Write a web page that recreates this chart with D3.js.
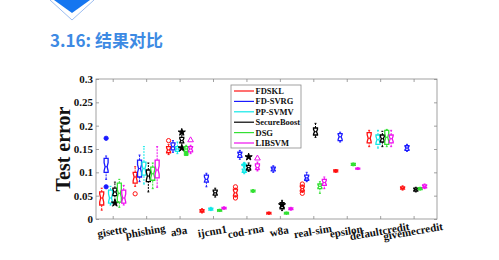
<!DOCTYPE html>
<html>
<head>
<meta charset="utf-8">
<script src="https://cdn.jsdelivr.net/npm/d3@7"></script>
<style>
  body { margin: 0; background: #fff; }
</style>
</head>
<body>
<svg id="chart" width="499" height="260"></svg>
<script>
//////////////////////////////////////////////////////////////////////////////
// Data: one row per dataset, [whiskerLow, q1, median, q3, whiskerHigh]

var datasets = ["gisette", "phishing", "a9a", "ijcnn1", "cod-rna", "w8a",
                "real-sim", "epsilon", "defaultcredit", "givemecredit"];
var methods = ["FDSKL", "FD-SVRG", "PP-SVMV", "SecureBoost", "DSG", "LIBSVM"];
var yTicks = [0, 0.05, 0.1, 0.15, 0.2, 0.25, 0.3];

var fdskl = [
  [0.019, 0.030, 0.045, 0.058, 0.066], [0.070, 0.077, 0.090, 0.100, 0.112],
  [0.138, 0.142, 0.148, 0.155, 0.160], [0.013, 0.015, 0.017, 0.020, 0.022],
  [0.047, 0.049, 0.056, 0.064, 0.066], [0.010, 0.011, 0.012, 0.014, 0.015],
  [0.057, 0.060, 0.065, 0.071, 0.073], [0.100, 0.101, 0.103, 0.105, 0.106],
  [0.155, 0.163, 0.173, 0.185, 0.190], [0.062, 0.064, 0.066, 0.069, 0.071]];
var fdsvrg = [
  [0.085, 0.100, 0.112, 0.130, 0.135], [0.080, 0.090, 0.108, 0.126, 0.137],
  [0.143, 0.148, 0.155, 0.163, 0.168], [0.069, 0.079, 0.085, 0.094, 0.098],
  [0.128, 0.132, 0.138, 0.143, 0.147], [0.100, 0.103, 0.107, 0.111, 0.114],
  [0.080, 0.083, 0.088, 0.094, 0.100], [0.165, 0.168, 0.176, 0.183, 0.186],
  null, [0.145, 0.147, 0.152, 0.157, 0.160]];
var ppsvmv = [
  [0.030, 0.034, 0.045, 0.062, 0.070], [0.075, 0.094, 0.108, 0.122, 0.155],
  [0.140, 0.145, 0.150, 0.155, 0.165], [0.018, 0.019, 0.021, 0.023, 0.025],
  [0.097, 0.100, 0.103, 0.107, 0.110], null,
  null, null,
  [0.152, 0.160, 0.170, 0.180, 0.190], null];
var secureboost = [
  [0.040, 0.050, 0.058, 0.066, 0.079], [0.058, 0.080, 0.092, 0.105, 0.120],
  [0.155, 0.163, 0.168, 0.175, 0.180], [0.047, 0.051, 0.056, 0.062, 0.066],
  [0.102, 0.105, 0.110, 0.115, 0.120], [0.018, 0.022, 0.028, 0.035, 0.040],
  [0.175, 0.180, 0.187, 0.195, 0.205], null,
  [0.155, 0.165, 0.172, 0.180, 0.188], [0.058, 0.060, 0.063, 0.066, 0.068]];
var dsg = [
  [0.025, 0.036, 0.055, 0.077, 0.085], [0.065, 0.083, 0.097, 0.111, 0.120],
  [0.140, 0.145, 0.150, 0.155, 0.158], [0.016, 0.017, 0.018, 0.020, 0.021],
  [0.057, 0.058, 0.060, 0.062, 0.063], [0.010, 0.011, 0.012, 0.014, 0.015],
  [0.055, 0.065, 0.070, 0.075, 0.080], [0.114, 0.115, 0.117, 0.119, 0.120],
  [0.155, 0.160, 0.175, 0.190, 0.192], [0.062, 0.063, 0.065, 0.067, 0.068]];
var libsvm = [
  [0.030, 0.034, 0.045, 0.062, 0.072], [0.068, 0.088, 0.105, 0.126, 0.155],
  [0.140, 0.144, 0.150, 0.155, 0.158], [0.021, 0.022, 0.023, 0.025, 0.026],
  [0.103, 0.106, 0.110, 0.118, 0.122], [0.019, 0.020, 0.022, 0.024, 0.025],
  [0.065, 0.072, 0.078, 0.085, 0.090], [0.106, 0.107, 0.108, 0.109, 0.110],
  [0.155, 0.163, 0.172, 0.180, 0.190], [0.065, 0.067, 0.070, 0.073, 0.075]];

// outliers: [datasetIndex, value]
var fdsklOut = [[1, 0.054], [2, 0.168], [4, 0.069], [4, 0.045], [6, 0.055], [6, 0.075]];
var fdsvrgOut = [[0, 0.173], [0, 0.069]];
var ppsvmvOut = [[4, 0.116]];
var secureboostOut = [[0, 0.034], [2, 0.186], [2, 0.152], [4, 0.133], [5, 0.030]];
var dsgOut = [[2, 0.140]];
var libsvmOut = [[2, 0.169], [4, 0.130]];

var allStats = [fdskl, fdsvrg, ppsvmv, secureboost, dsg, libsvm];
var allOut = [fdsklOut, fdsvrgOut, ppsvmvOut, secureboostOut, dsgOut, libsvmOut];
var colors = ["#ff1010", "#1a1aff", "#10e8e8", "#000000", "#33e033", "#ee10ee"];
var markers = [d3.symbolCircle, d3.symbolCircle, d3.symbolCross, d3.symbolStar,
               d3.symbolSquare, d3.symbolTriangle];
var markerFill = [false, true, true, true, true, false];

//////////////////////////////////////////////////////////////////////////////
// Header

var svg = d3.select("#chart");
var serif = "'Liberation Serif', 'Times New Roman', serif";

svg.append("path")
  .attr("d", "M50,0 L72,20 L94,0")
  .attr("fill", "none")
  .attr("stroke", "#9cbdf0")
  .attr("stroke-width", 1);
svg.append("path")
  .attr("d", "M54,0 L90,0 L72,13 Z")
  .attr("fill", "#1576f0");

svg.append("text")
  .attr("x", 50)
  .attr("y", 47)
  .attr("font-family", "'Noto Sans CJK SC', 'Noto Sans', sans-serif")
  .attr("font-weight", "bold")
  .attr("font-size", 17)
  .attr("fill", "#3d8ae3")
  .text("3.16: 结果对比");

//////////////////////////////////////////////////////////////////////////////
// Scales and axes

var pLeft = 96, pRight = 437, pTop = 79, pBottom = 219;
var x = d3.scaleLinear().domain([0.5, 10.7]).range([pLeft, pRight]);
var y = d3.scaleLinear().domain([0, 0.3]).range([pBottom, pTop]);
var axisColor = "#8a8a8a";

var plot = svg.append("g");

plot.append("rect")
  .attr("x", pLeft).attr("y", pTop)
  .attr("width", pRight - pLeft).attr("height", pBottom - pTop)
  .attr("fill", "none")
  .attr("stroke", axisColor)
  .attr("stroke-width", 0.8);

var xIdx = d3.range(1, datasets.length + 1);

// inner ticks on four sides
var xb = plot.append("g").attr("transform", `translate(0,${pBottom})`)
  .call(d3.axisBottom(x).tickValues(xIdx).tickSizeInner(-3).tickSizeOuter(0).tickFormat(""));
var xt = plot.append("g").attr("transform", `translate(0,${pTop})`)
  .call(d3.axisTop(x).tickValues(xIdx).tickSizeInner(-3).tickSizeOuter(0).tickFormat(""));
var yl = plot.append("g").attr("transform", `translate(${pLeft},0)`)
  .call(d3.axisLeft(y).tickValues(yTicks).tickSizeInner(-3).tickSizeOuter(0)
    .tickFormat(d => String(+d.toFixed(2))));
var yr = plot.append("g").attr("transform", `translate(${pRight},0)`)
  .call(d3.axisRight(y).tickValues(yTicks).tickSizeInner(-3).tickSizeOuter(0).tickFormat(""));

[xb, xt, yl, yr].forEach(function(g) {
  g.select(".domain").remove();
  g.selectAll("line").attr("stroke", axisColor).attr("stroke-width", 0.8);
});

yl.selectAll("text")
  .attr("x", -3)
  .attr("font-family", serif)
  .attr("font-weight", "bold")
  .attr("font-size", 11)
  .attr("fill", "#111");

// rotated dataset labels
plot.append("g").selectAll("text")
  .data(datasets).enter().append("text")
  .attr("transform", (d, i) => `translate(${x(i + 1)},${pBottom + 16}) rotate(-10)`)
  .attr("text-anchor", "middle")
  .attr("font-family", serif)
  .attr("font-weight", "bold")
  .attr("font-size", 11)
  .attr("fill", "#111")
  .text(d => d);

svg.append("text")
  .attr("transform", `translate(70,${(pTop + pBottom) / 2}) rotate(-90)`)
  .attr("text-anchor", "middle")
  .attr("font-family", serif)
  .attr("font-weight", "bold")
  .attr("font-size", 20)
  .attr("fill", "#111")
  .text("Test error");

//////////////////////////////////////////////////////////////////////////////
// Box plots

var step = 4.4, bw = 4;

function notchPath(cx, s) {
  var q1 = y(s[1]), md = y(s[2]), q3 = y(s[3]);
  var n = Math.min((q1 - q3) * 0.35, 4);
  var h = bw / 2, k = bw / 4;
  return `M${cx - h},${q1} L${cx - h},${md + n} L${cx - k},${md} L${cx - h},${md - n}` +
         ` L${cx - h},${q3} L${cx + h},${q3} L${cx + h},${md - n} L${cx + k},${md}` +
         ` L${cx + h},${md + n} L${cx + h},${q1} Z`;
}

allStats.forEach(function(stats, m) {
  var g = plot.append("g").attr("stroke", colors[m]).attr("fill", "none");
  var off = (m - 2.5) * step;
  var rows = stats.map((s, i) => ({ s: s, i: i })).filter(d => d.s);

  // whiskers (dashed)
  g.selectAll(".wlo").data(rows).enter().append("line")
    .attr("x1", d => x(d.i + 1) + off).attr("x2", d => x(d.i + 1) + off)
    .attr("y1", d => y(d.s[0])).attr("y2", d => y(d.s[1]))
    .attr("stroke-dasharray", "2,1").attr("stroke-width", 1);
  g.selectAll(".whi").data(rows).enter().append("line")
    .attr("x1", d => x(d.i + 1) + off).attr("x2", d => x(d.i + 1) + off)
    .attr("y1", d => y(d.s[3])).attr("y2", d => y(d.s[4]))
    .attr("stroke-dasharray", "2,1").attr("stroke-width", 1);
  [0, 4].forEach(function(j) {
    g.selectAll(".cap" + j).data(rows).enter().append("line")
      .attr("x1", d => x(d.i + 1) + off - 1).attr("x2", d => x(d.i + 1) + off + 1)
      .attr("y1", d => y(d.s[j])).attr("y2", d => y(d.s[j]))
      .attr("stroke-width", 1);
  });

  g.selectAll("path.box").data(rows).enter().append("path")
    .attr("d", d => notchPath(x(d.i + 1) + off, d.s))
    .attr("stroke-width", 1.3);

  g.selectAll(".med").data(rows).enter().append("line")
    .attr("x1", d => x(d.i + 1) + off - bw / 4).attr("x2", d => x(d.i + 1) + off + bw / 4)
    .attr("y1", d => y(d.s[2])).attr("y2", d => y(d.s[2]))
    .attr("stroke-width", 1);

  var sym = d3.symbol().type(markers[m]).size(markers[m] === d3.symbolStar ? 16 : 14);
  g.selectAll(".out").data(allOut[m]).enter().append("path")
    .attr("transform", d => `translate(${x(d[0] + 1) + off},${y(d[1])})`)
    .attr("d", sym)
    .attr("fill", markerFill[m] ? colors[m] : "none")
    .attr("stroke-width", 1);
});

//////////////////////////////////////////////////////////////////////////////
// Legend

var lg = svg.append("g").attr("transform", "translate(231,85)");
lg.append("rect")
  .attr("width", 70).attr("height", 63)
  .attr("fill", "#fff")
  .attr("stroke", axisColor)
  .attr("stroke-width", 0.8);

var items = lg.selectAll(".item").data(methods).enter().append("g")
  .attr("transform", (d, i) => `translate(0,${6 + i * 10.4})`);
items.append("line")
  .attr("x1", 3).attr("x2", 23)
  .attr("stroke", (d, i) => colors[i])
  .attr("stroke-width", 1.2);
items.append("text")
  .attr("x", 24.5).attr("y", 3)
  .attr("font-family", serif)
  .attr("font-weight", "bold")
  .attr("font-size", 8.5)
  .attr("fill", "#111")
  .text(d => d);
</script>
</body>
</html>
